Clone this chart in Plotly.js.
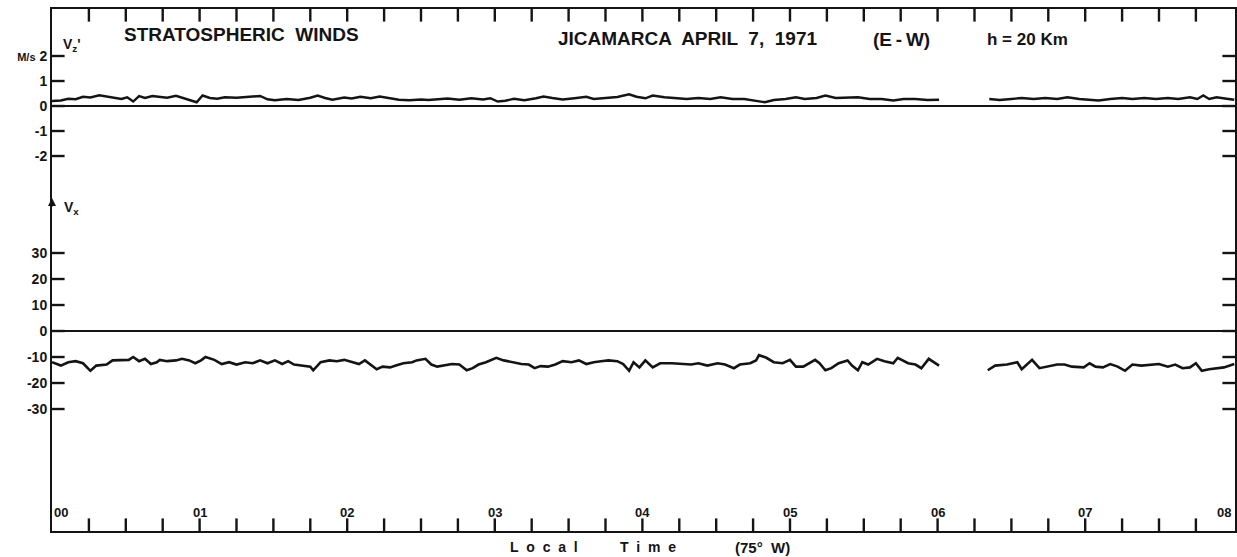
<!DOCTYPE html>
<html>
<head>
<meta charset="utf-8">
<script src="https://cdn.plot.ly/plotly-3.0.1.min.js"></script>
<style>html,body{margin:0;padding:0;background:#fff;}</style>
</head>
<body>
<div id="chart" style="width:1237px;height:557px;"></div>
<script>
// Local time in hours (75° W) and wind values (m/s), read from the record
const hourTicks = [0, 1, 2, 3, 4, 5, 6, 7, 8];
const hourLabels = ['00', '01', '02', '03', '04', '05', '06', '07', '08'];
const quarterSteps = [0, 0.25, 0.5, 0.75];
const vxTicks = [-30, -20, -10, 0, 10, 20, 30];
const vxTickLabels = ['-30', '-20', '-10', '0', '10', '20', '30'];
const vzTicks = [-2, -1, 0, 1, 2];
const vzTickLabels = ['-2', '-1', '0', '1', '<span style="font-size:11px">M/s</span> 2'];

// Vx (E-W) : [hour, m/s]; null marks the data gap
const vxData = [
[0.00,-12.0],[0.06,-13.3],[0.11,-12.0],[0.16,-11.6],[0.21,-12.4],[0.26,-15.3],[0.30,-13.3],[0.37,-12.9],[0.41,-11.3],[0.47,-11.1],
[0.52,-11.1],[0.55,-10.0],[0.59,-11.6],[0.63,-10.7],[0.67,-12.7],[0.71,-12.0],[0.73,-11.1],[0.78,-11.6],[0.84,-11.3],[0.88,-10.7],
[0.93,-11.3],[0.97,-12.4],[1.01,-11.3],[1.04,-10.0],[1.10,-11.1],[1.15,-12.7],[1.20,-12.0],[1.25,-12.9],[1.31,-12.0],[1.36,-12.4],
[1.41,-11.3],[1.46,-12.4],[1.51,-11.3],[1.56,-12.7],[1.60,-11.6],[1.64,-12.9],[1.69,-13.3],[1.75,-13.7],[1.77,-15.1],[1.82,-12.0],
[1.88,-11.3],[1.93,-11.6],[1.98,-11.1],[2.03,-12.0],[2.08,-12.7],[2.12,-11.3],[2.16,-12.9],[2.20,-14.7],[2.24,-13.7],[2.29,-14.0],
[2.33,-13.3],[2.38,-12.4],[2.44,-12.0],[2.47,-11.3],[2.53,-10.7],[2.57,-12.9],[2.61,-13.7],[2.66,-13.3],[2.71,-12.7],[2.76,-12.9],
[2.81,-15.1],[2.85,-14.3],[2.89,-12.9],[2.94,-12.0],[3.01,-10.3],[3.06,-11.3],[3.13,-12.0],[3.18,-12.7],[3.23,-12.9],[3.27,-14.3],
[3.31,-13.5],[3.36,-13.7],[3.41,-12.9],[3.46,-11.6],[3.52,-12.0],[3.57,-11.3],[3.62,-12.7],[3.67,-12.0],[3.72,-11.6],[3.77,-11.3],
[3.83,-11.6],[3.87,-12.7],[3.91,-15.3],[3.94,-12.0],[3.98,-14.0],[4.02,-11.3],[4.07,-14.0],[4.12,-12.4],[4.20,-12.4],[4.27,-12.7],
[4.33,-12.9],[4.38,-12.4],[4.44,-13.3],[4.51,-12.4],[4.56,-12.9],[4.62,-14.3],[4.66,-12.9],[4.73,-12.4],[4.77,-11.3],[4.79,-9.3],
[4.84,-10.3],[4.89,-12.0],[4.95,-12.4],[5.00,-11.1],[5.04,-13.7],[5.09,-13.7],[5.17,-11.1],[5.20,-12.4],[5.24,-15.1],[5.28,-14.3],
[5.33,-12.4],[5.39,-11.3],[5.42,-13.3],[5.46,-15.1],[5.49,-12.0],[5.53,-12.9],[5.59,-10.7],[5.64,-11.6],[5.70,-12.4],[5.73,-10.3],
[5.80,-12.4],[5.85,-12.9],[5.89,-14.3],[5.94,-10.7],[5.98,-12.0],[6.01,-13.3],[6.17,null],
[6.34,-15.1],[6.39,-13.3],[6.47,-12.9],[6.54,-12.0],[6.57,-14.7],[6.64,-11.1],[6.69,-14.3],[6.75,-13.7],[6.81,-12.9],[6.86,-12.9],
[6.91,-13.7],[6.99,-14.0],[7.03,-12.4],[7.07,-13.7],[7.12,-14.0],[7.17,-12.7],[7.22,-13.7],[7.27,-15.3],[7.32,-12.9],[7.38,-13.3],
[7.45,-12.9],[7.50,-12.7],[7.56,-13.7],[7.61,-12.9],[7.66,-14.3],[7.71,-14.0],[7.75,-12.4],[7.79,-15.3],[7.84,-14.7],[7.89,-14.3],
[7.94,-14.0],[7.98,-13.3],[8.01,-12.7]
];

// Vz' : [hour, m/s]; null marks the data gap
const vzData = [
[0.00,0.20],[0.06,0.22],[0.11,0.29],[0.16,0.27],[0.21,0.37],[0.26,0.34],[0.32,0.43],[0.37,0.38],[0.42,0.35],[0.47,0.28],
[0.51,0.35],[0.55,0.18],[0.59,0.40],[0.63,0.32],[0.68,0.40],[0.73,0.36],[0.78,0.33],[0.84,0.41],[0.89,0.31],[0.94,0.24],
[0.98,0.15],[1.02,0.42],[1.07,0.32],[1.12,0.29],[1.17,0.35],[1.25,0.33],[1.33,0.36],[1.41,0.40],[1.46,0.27],[1.51,0.23],
[1.59,0.28],[1.67,0.24],[1.75,0.33],[1.80,0.42],[1.85,0.32],[1.90,0.25],[1.98,0.34],[2.03,0.30],[2.09,0.37],[2.16,0.31],
[2.22,0.38],[2.29,0.32],[2.35,0.25],[2.42,0.23],[2.50,0.26],[2.55,0.24],[2.61,0.27],[2.68,0.30],[2.76,0.25],[2.84,0.31],
[2.92,0.26],[2.97,0.31],[3.02,0.18],[3.07,0.21],[3.13,0.29],[3.20,0.23],[3.28,0.31],[3.33,0.38],[3.39,0.32],[3.46,0.26],
[3.54,0.31],[3.62,0.37],[3.67,0.28],[3.75,0.33],[3.83,0.36],[3.91,0.47],[3.96,0.37],[4.02,0.31],[4.07,0.42],[4.15,0.35],
[4.22,0.32],[4.30,0.28],[4.38,0.32],[4.46,0.28],[4.53,0.35],[4.61,0.28],[4.69,0.28],[4.77,0.22],[4.83,0.15],[4.89,0.24],
[4.97,0.28],[5.04,0.35],[5.10,0.28],[5.18,0.32],[5.24,0.42],[5.31,0.32],[5.39,0.32],[5.46,0.35],[5.54,0.28],[5.62,0.28],
[5.70,0.22],[5.77,0.28],[5.85,0.28],[5.93,0.24],[6.01,0.25],[6.17,null],
[6.35,0.28],[6.42,0.24],[6.50,0.28],[6.57,0.32],[6.65,0.28],[6.73,0.32],[6.81,0.28],[6.88,0.35],[6.96,0.28],[7.04,0.24],
[7.09,0.22],[7.17,0.28],[7.25,0.32],[7.32,0.28],[7.40,0.32],[7.48,0.28],[7.56,0.32],[7.63,0.28],[7.71,0.35],[7.76,0.28],
[7.80,0.42],[7.84,0.28],[7.89,0.35],[7.97,0.28],[8.01,0.25]
];

const INK = '#141414';
const FONT = 'Liberation Sans, Arial, sans-serif';
const XR = [0, 8.015];
const VZR = [-3.16, 3.88];
const VXR = [-76.92, 56.15];
const SPLIT = 0.6628;   // boundary between the two stacked panels (paper fraction)

const quarterTicks = [];
hourTicks.slice(0, -1).forEach(h => quarterSteps.forEach(q => quarterTicks.push(h + q)));
const innerQuarters = quarterTicks.filter(t => t > 0);

// tick marks: line markers centred on the frame, clipped so only the inner half shows
function tickTrace(xs, ys, xa, ya, symbol, size) {
  return {
    x: xs, y: ys, xaxis: xa, yaxis: ya, mode: 'markers', cliponaxis: true,
    marker: {symbol: symbol, size: size, color: INK, line: {color: INK, width: 2.4}},
    hoverinfo: 'skip', showlegend: false
  };
}

const traces = [
  {
    x: vzData.map(p => p[0]), y: vzData.map(p => p[1]),
    xaxis: 'x', yaxis: 'y', mode: 'lines', connectgaps: false,
    line: {color: INK, width: 2.4}, hoverinfo: 'skip', showlegend: false
  },
  {
    x: vxData.map(p => p[0]), y: vxData.map(p => p[1]),
    xaxis: 'x2', yaxis: 'y2', mode: 'lines', connectgaps: false,
    line: {color: INK, width: 2.6}, hoverinfo: 'skip', showlegend: false
  },
  // top frame ticks
  tickTrace(innerQuarters, innerQuarters.map(() => VZR[1]), 'x', 'y', 'line-ns-open', 18),
  // bottom frame ticks
  tickTrace(innerQuarters, innerQuarters.map(() => VXR[0]), 'x2', 'y2', 'line-ns-open', 18),
  // left and right ticks, Vz' panel
  tickTrace(vzTicks.map(() => XR[0]), vzTicks, 'x', 'y', 'line-ew-open', 18),
  tickTrace(vzTicks.map(() => XR[1]), vzTicks, 'x', 'y', 'line-ew-open', 18),
  // left and right ticks, Vx panel
  tickTrace(vxTicks.map(() => XR[0]), vxTicks, 'x2', 'y2', 'line-ew-open', 18),
  tickTrace(vxTicks.map(() => XR[1]), vxTicks, 'x2', 'y2', 'line-ew-open', 18)
];

const tickFont = {family: FONT, size: 14, color: INK, weight: 'bold'};

const xCommon = {
  range: XR, ticks: '', showticklabels: false,
  showline: true, linewidth: 2, linecolor: INK,
  showgrid: false, zeroline: false
};
const yCommon = {
  tickmode: 'array', ticks: '',
  showline: true, linewidth: 2, linecolor: INK, mirror: true,
  zeroline: true, zerolinecolor: INK, zerolinewidth: 1.6, showgrid: false,
  tickfont: tickFont
};

const annotations = [
  {text: '<b>STRATOSPHERIC  WINDS</b>', x: 0.16, y: 0.952, size: 19},
  {text: '<b>JICAMARCA  APRIL  7,  1971</b>', x: 0.5376, y: 0.944, size: 19},
  {text: '<b>(E\u2009-\u2009W)</b>', x: 0.7177, y: 0.941, size: 19},
  {text: '<b>h = 20 Km</b>', x: 0.825, y: 0.941, size: 17},
  {text: "<b>V<sub>z</sub>'</b>", x: 0.0165, y: 0.931, size: 14},
  {text: '<b>V<sub>x</sub></b>', x: 0.0165, y: 0.619, size: 14},
  {text: '<b>L\u00a0\u00a0o\u00a0\u00a0c\u00a0\u00a0a\u00a0\u00a0l</b>', x: 0.4155, y: -0.031, size: 14},
  {text: '<b>T\u00a0\u00a0i\u00a0\u00a0m\u00a0\u00a0e</b>', x: 0.5038, y: -0.031, size: 14},
  {text: '<b>(75°\u00a0\u00a0W)</b>', x: 0.601, y: -0.031, size: 15}
].map(a => ({
  text: a.text, xref: 'paper', yref: 'paper', x: a.x, y: a.y,
  xanchor: 'center', yanchor: 'middle', showarrow: false,
  font: {family: FONT, size: a.size, color: INK}
}));

// arrow head on the left axis marking the Vx scale
annotations.push({text: '', xref: 'paper', yref: 'paper', x: 0, y: 0.638, ax: 0, ay: 10,
  showarrow: true, arrowhead: 2, arrowsize: 1, arrowwidth: 1.6, arrowcolor: INK});

// hour labels drawn just above the bottom axis, on the time scale
hourTicks.forEach((h, i) => {
  annotations.push({
    text: '<b>' + hourLabels[i] + '</b>', xref: 'x2', yref: 'paper', x: h, y: 0.036,
    xanchor: i === 0 ? 'left' : (i === hourTicks.length - 1 ? 'right' : 'center'),
    yanchor: 'middle', showarrow: false,
    font: {family: FONT, size: 13, color: INK}
  });
});

const layout = {
  width: 1237, height: 557,
  margin: {l: 52, r: 2, t: 9, b: 26},
  paper_bgcolor: '#ffffff', plot_bgcolor: '#ffffff',
  showlegend: false,
  font: {family: FONT, color: INK},
  xaxis: Object.assign({}, xCommon, {anchor: 'y', side: 'top'}),
  xaxis2: Object.assign({}, xCommon, {anchor: 'y2', side: 'bottom', matches: 'x'}),
  yaxis: Object.assign({}, yCommon, {
    anchor: 'x', domain: [SPLIT, 1], range: VZR,
    tickvals: vzTicks, ticktext: vzTickLabels
  }),
  yaxis2: Object.assign({}, yCommon, {
    anchor: 'x2', domain: [0, SPLIT], range: VXR,
    tickvals: vxTicks, ticktext: vxTickLabels
  }),
  annotations: annotations
};

Plotly.newPlot('chart', traces, layout, {displayModeBar: false});
</script>
</body>
</html>
